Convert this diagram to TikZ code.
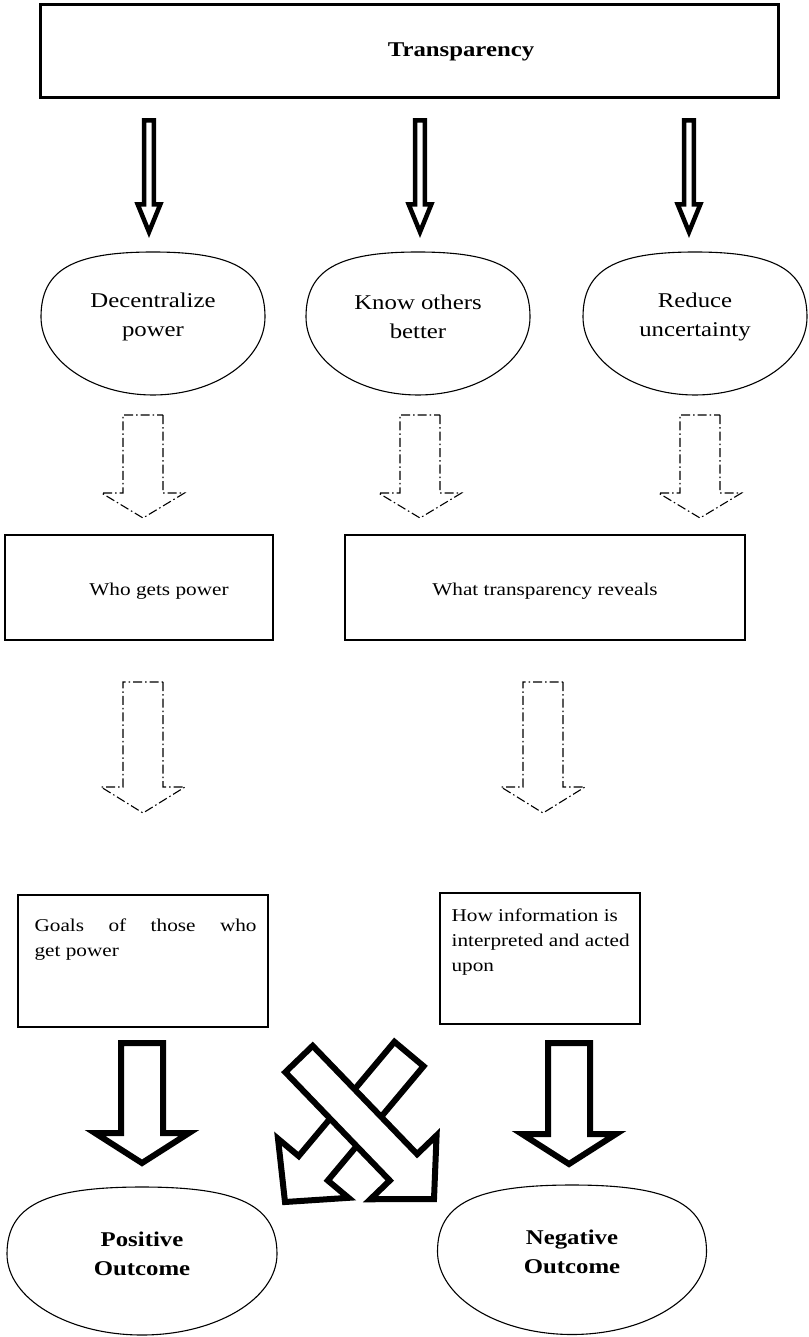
\documentclass[tikz,border=0pt]{standalone}
\usepackage{fontspec}
\setmainfont{Liberation Serif}[FakeStretch=1.18]
\usetikzlibrary{calc}

\tikzset{
  txt/.style={font=\fontsize{21}{29}\selectfont, align=center, inner sep=0pt},
  boxtxt/.style={font=\fontsize{18}{25}\selectfont, inner sep=0pt},
  plainbox/.style={draw, line width=1.2pt, inner sep=0pt},
  headbox/.style={draw, line width=3pt, inner sep=0pt},
  thickarrow/.style={draw, fill=white, line width=4.5pt},
  fatarrow/.style={draw, fill=white, line width=6pt},
  dotarrow/.style={draw, line width=1.1pt, dash pattern=on 9pt off 3pt on 1.5pt off 3pt},
  blobline/.style={line width=1.1pt},
}

% block arrow: style, tail, tip, shaft half width, head half width, head length
\newcommand{\blockarrow}[6]{%
  \coordinate (ba-base) at ($(#3)!#6!(#2)$);
  \draw[#1] ($(#2)!#4!90:(#3)$) -- ($(ba-base)!#4!90:(#3)$) -- ($(ba-base)!#5!90:(#3)$) -- (#3)
    -- ($(ba-base)!#5!-90:(#3)$) -- ($(ba-base)!#4!-90:(#3)$) -- ($(#2)!#4!-90:(#3)$) -- cycle;
}
% rounded blob round a node: node, half width, above, below
\newcommand{\blobaround}[4]{%
  \begin{scope}[shift={(#1.center)}]
    \draw[blobline] (0,-#3) .. controls ({0.72*#2},-#3) and (#2,{-0.72*#3}) .. (#2,0)
      .. controls (#2,{0.55*#4}) and ({0.55*#2},#4) .. (0,#4)
      .. controls ({-0.55*#2},#4) and (-#2,{0.55*#4}) .. (-#2,0)
      .. controls (-#2,{-0.72*#3}) and ({-0.72*#2},-#3) .. (0,-#3) -- cycle;
  \end{scope}
}

\begin{document}
\begin{tikzpicture}[x=1pt, y=-1pt]
  \useasboundingbox (0,0) rectangle (808,1337);

  % top box
  \node[headbox, minimum width=738pt, minimum height=93pt] (transp) at (409,51.5) {};
  \node[txt, font=\fontsize{21}{29}\selectfont\bfseries] (transplbl) at ([xshift=52pt]transp.center) {Transparency};

  % first row
  \node[txt] (dec) at (153,317) {Decentralize\\power};
  \node[txt] (know) at (418,317) {Know others\\better};
  \node[txt] (red) at (695,317) {Reduce\\uncertainty};
  \blobaround{dec}{112}{65}{78}
  \blobaround{know}{112}{65}{78}
  \blobaround{red}{112}{65}{78}

  \foreach \n/\x in {1/149, 2/420, 3/689} {
    \coordinate (ta\n) at (\x,120.5);
    \coordinate (th\n) at (\x,232);
    \blockarrow{thickarrow}{ta\n}{th\n}{4.9pt}{11.25pt}{27.5pt}
  }

  % dashed arrows
  \foreach \n/\x in {1/143, 2/420, 3/700} {
    \coordinate (da\n) at (\x,415);
    \coordinate (dh\n) at (\x,518);
    \blockarrow{dotarrow}{da\n}{dh\n}{20pt}{41.5pt}{25pt}
  }

  \node[plainbox, minimum width=268pt, minimum height=105pt] (who) at (139,587.5) {};
  \node[boxtxt] (wholbl) at ([xshift=20pt, yshift=-4pt]who.center) {Who gets power};
  \node[plainbox, minimum width=400pt, minimum height=105pt] (what) at (545,587.5) {};
  \node[boxtxt] (whatlbl) at ([yshift=-4pt]what.center) {What transparency reveals};

  \foreach \n/\x in {4/143, 5/543} {
    \coordinate (da\n) at (\x,682);
    \coordinate (dh\n) at (\x,813);
    \blockarrow{dotarrow}{da\n}{dh\n}{20pt}{42pt}{26pt}
  }

  \node[plainbox, minimum width=250pt, minimum height=132pt] (goals) at (143,961) {};
  \node[boxtxt, anchor=north west, align=left] (goalslbl) at ([xshift=17pt, yshift=-24pt]goals.north west)
    {\makebox[222pt][s]{Goals of those who}\\get power};
  \node[plainbox, minimum width=200pt, minimum height=131pt] (how) at (540,958.5) {};
  \node[boxtxt, anchor=north west, align=left] (howlbl) at ([xshift=12pt, yshift=-16pt]how.north west)
    {How information is\\interpreted and acted\\upon};

  % outcome arrows
  \coordinate (pa) at (142,1043);
  \coordinate (ph) at (142,1163);
  \coordinate (na) at (569,1043);
  \coordinate (nh) at (569,1164);
  \blockarrow{fatarrow}{pa}{ph}{21pt}{47pt}{30pt}
  \blockarrow{fatarrow}{na}{nh}{21pt}{47pt}{30pt}

  % crossed arrows
  \coordinate (xa2) at (409,1054);
  \coordinate (xh2) at (285,1202);
  \coordinate (xa1) at (299,1059);
  \coordinate (xh1) at (434,1199);
  \blockarrow{fatarrow}{xa2}{xh2}{19pt}{46pt}{44pt}
  \blockarrow{fatarrow}{xa1}{xh1}{19pt}{46pt}{44pt}

  \node[txt, font=\fontsize{21}{29}\selectfont\bfseries] (pos) at (142,1254) {Positive\\Outcome};
  \node[txt, font=\fontsize{21}{29}\selectfont\bfseries] (neg) at (572,1251.5) {Negative\\Outcome};
  \blobaround{pos}{135}{67}{81}
  \blobaround{neg}{134.5}{66.5}{83}
\end{tikzpicture}
\end{document}
